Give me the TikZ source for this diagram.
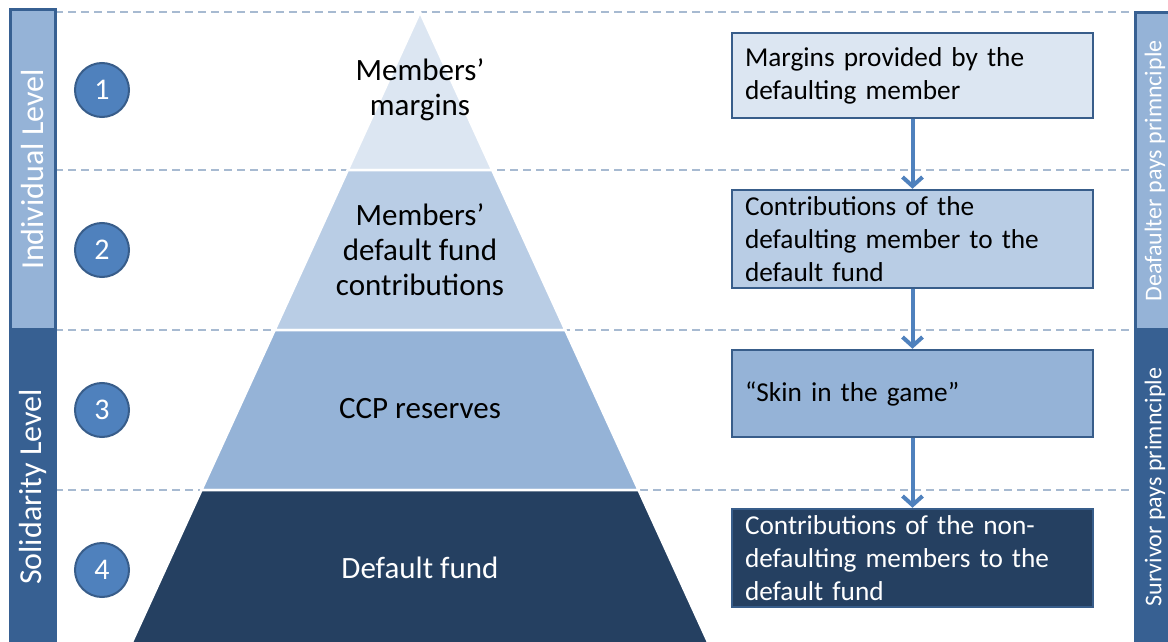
\documentclass[tikz,border=0pt]{standalone}
\usepackage{fontspec}
\setmainfont{Carlito}
\usetikzlibrary{arrows.meta}
\definecolor{bardark}{HTML}{376092}
\definecolor{barlight}{HTML}{95B3D7}
\definecolor{edgeblue}{HTML}{385D8A}
\definecolor{ballblue}{HTML}{4F81BD}
\definecolor{dashgrey}{HTML}{A7BAD1}
\definecolor{layone}{HTML}{DCE6F2}
\definecolor{laytwo}{HTML}{B9CDE5}
\definecolor{laythree}{HTML}{95B3D7}
\definecolor{layfour}{HTML}{254061}
\begin{document}
\begin{tikzpicture}[x=1pt,y=-1pt,
	levelbar/.style={draw=bardark,line width=3pt,rotate=90,minimum width=#1,minimum height=45pt,inner sep=0pt,text=white,font=\fontsize{32}{34}\selectfont},
	sidebar/.style={draw=bardark,line width=3pt,rotate=90,minimum width=#1,minimum height=45pt,inner sep=0pt},
	sidetext/.style={rotate=90,inner sep=0pt,text=white,font=\fontsize{24}{28}\selectfont},
	ball/.style={circle,draw=edgeblue,line width=2pt,fill=ballblue,minimum size=54pt,inner sep=0pt,text=white,font=\fontsize{30}{32}\selectfont},
	layer/.style={draw=white,line width=2.5pt},
	laytext/.style={align=center,font=\fontsize{31}{35}\selectfont},
	stepbox/.style={draw=edgeblue,line width=2.5pt,text width=335pt,inner xsep=13pt,inner ysep=0pt,minimum height=#1,align=left,font=\fontsize{27.3}{33}\selectfont},
	guide/.style={dashgrey,line width=2pt,dash pattern=on 8pt off 5pt},
	flow/.style={ballblue,line width=4pt,-{Straight Barb[length=9pt,width=20pt]}}]
	\useasboundingbox[fill=white] (0,0) rectangle (1168,642);
	% dashed level lines
	\draw[guide] (55,12) -- (1135,12);
	\draw[guide] (55,170) -- (1135,170);
	\draw[guide] (55,330) -- (1135,330);
	\draw[guide] (55,490) -- (1135,490);
	% side bars
	\node[levelbar=319pt,fill=barlight] (indiv) at (32.5,169.5) {Individual Level};
	\node[levelbar=316pt,fill=bardark] (solid) at (32.5,487) {Solidarity Level};
	\node[sidebar=316pt,fill=barlight] (defpays) at (1158,171) {};
	\node[sidebar=316pt,fill=bardark] (survpays) at (1158,487) {};
	\node[sidetext] (defpaystext) at (1155,171) {Deafaulter pays primnciple};
	\node[sidetext] (survpaystext) at (1155,487) {Survivor pays primnciple};
	% numbers
	\node[ball] (one) at (102,90) {1};
	\node[ball] (two) at (102,250) {2};
	\node[ball] (three) at (102,410) {3};
	\node[ball] (four) at (102,570) {4};
	% pyramid
	\draw[layer,fill=layone] (420,12) -- (492.2,170) -- (347.8,170) -- cycle;
	\draw[layer,fill=laytwo] (347.8,170) -- (492.2,170) -- (565.3,330) -- (274.7,330) -- cycle;
	\draw[layer,fill=laythree] (274.7,330) -- (565.3,330) -- (638.5,490) -- (201.5,490) -- cycle;
	\draw[layer,fill=layfour] (201.5,490) -- (638.5,490) -- (711.6,650) -- (128.4,650) -- cycle;
	\node[laytext] (margins) at (420,90) {Members’\\margins};
	\node[laytext] (dfcontrib) at (420,250) {Members’\\default fund\\contributions};
	\node[laytext] (reserves) at (420,409) {CCP reserves};
	\node[laytext,text=white] (dfund) at (420,568) {Default fund};
	% waterfall boxes
	\node[stepbox=85pt,fill=layone] (boxone) at (912.5,75.5) {Margins provided by the\\defaulting member};
	\node[stepbox=98pt,fill=laytwo] (boxtwo) at (912.5,239) {Contributions of the\\defaulting member to the\\default fund};
	\node[stepbox=87pt,fill=laythree] (boxthree) at (912.5,393.5) {“Skin in the game”};
	\node[stepbox=98pt,fill=layfour,text=white] (boxfour) at (912.5,558) {Contributions of the non-\\defaulting members to the\\default fund};
	\draw[flow] (boxone) -- (boxtwo);
	\draw[flow] (boxtwo) -- (boxthree);
	\draw[flow] (boxthree) -- (boxfour);
\end{tikzpicture}
\end{document}
